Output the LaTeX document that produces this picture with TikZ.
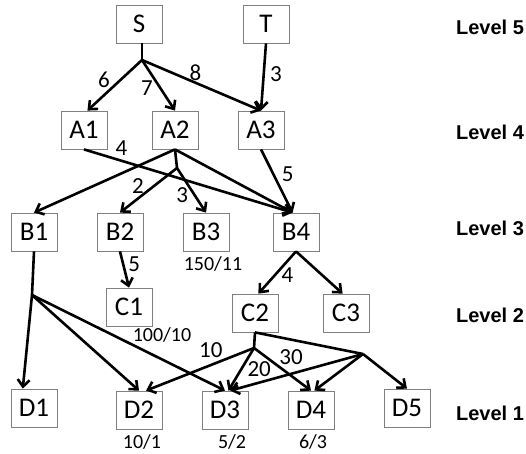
\documentclass[tikz,border=0pt]{standalone}
\usepackage{fontspec}
\setmainfont{Carlito}
\newfontfamily\levelfont{Liberation Sans}
\usetikzlibrary{arrows.meta,positioning}

\begin{document}
\begin{tikzpicture}[x=1pt, y=-1pt, node distance={86pt}, line width=2.6pt,
    main/.style = {draw=gray, line width=0.8pt, minimum width=46pt, minimum height=38pt, inner sep=0pt, font=\fontsize{27}{29}\selectfont},
    arr/.style = {-{Straight Barb[length=7pt,width=12pt]}},
    num/.style = {font=\fontsize{23}{25}\selectfont, inner sep=1pt},
    wt/.style = {font=\fontsize{20}{22}\selectfont, inner sep=0pt},
    lvl/.style = {font=\levelfont\bfseries\fontsize{20}{22}\selectfont}]
    \useasboundingbox (0,0) rectangle (526,453);
    \node[main] (S) at (139,24) {S};
    \node[main] (T) at (266,24) {T};
    \node[main] (A1) at (84,130) {A1};
    \node[main] (A2) at (175,130) {A2};
    \node[main] (A3) [right of=A2] {A3};
    \node[main] (B1) at (34,232) {B1};
    \node[main] (B2) [right of=B1] {B2};
    \node[main] (B3) [right of=B2] {B3};
    \node[main] (B4) at (296,232) {B4};
    \node[main] (C1) at (129,307) {C1};
    \node[main] (C2) at (255,313) {C2};
    \node[main] (C3) at (346,313) {C3};
    \node[main] (D1) at (34,408) {D1};
    \node[main] (D2) at (139,410) {D2};
    \node[main] (D3) [right of=D2] {D3};
    \node[main] (D4) [right of=D3] {D4};
    \node[main] (D5) at (407,408) {D5};
    % weights under the boxes
    \node[wt] (wB3) at (213,264) {150/11};
    \node[wt] (wC1) at (162,335) {100/10};
    \node[wt] (wD2) at (142,442) {10/1};
    \node[wt] (wD3) at (232,442) {5/2};
    \node[wt] (wD4) at (313,442) {6/3};
    % levels
    \node[lvl] (L5) at (490,27) {Level 5};
    \node[lvl] (L4) at (490,132) {Level 4};
    \node[lvl] (L3) at (490,228) {Level 3};
    \node[lvl] (L2) at (490,315) {Level 2};
    \node[lvl] (L1) at (490,413) {Level 1};
    % branch points
    \coordinate (s0) at (142,60);
    \coordinate (a0) at (177,168);
    \coordinate (b0) at (32,295);
    \coordinate (c0) at (254,348);
    \coordinate (c1) at (363,354);
    \draw (S.south -| s0) -- (s0);
    \draw[arr] (s0) -- node[num, pos=.4, left=8pt] {6} (A1.80);
    \draw[arr] (s0) -- node[num, pos=.55, left=5pt] {7} (A2.north);
    \draw[arr] (s0) -- node[num, pos=.45, above=0pt] {8} (A3.north);
    \draw[arr] (T.south) -- node[num, pos=.45, right=4pt] {3} (A3.north);
    \draw[arr] (A1.south) -- node[num, pos=.18, above=3pt] {4} (B4.100);
    \draw[arr] (A2.south) -- (B1.north);
    \draw[arr] (A2.south) -- (B4.100);
    \draw (A2.south) -- (a0);
    \draw[arr] (a0) -- node[num, pos=.4, left=8pt] {2} (B2.north);
    \draw[arr] (a0) -- node[num, pos=.6, left=4pt] {3} (B3.north);
    \draw[arr] (A3.south) -- node[num, pos=.4, right=6pt] {5} (B4.100);
    \draw[arr] (B2.south) -- node[num, pos=.35, right=3pt] {5} (C1.north);
    \draw[arr] (B4.south) -- node[num, pos=.55, right=4pt] {4} (C2.80);
    \draw[arr] (B4.south) -- (C3.100);
    \draw (B1.south) -- (b0);
    \draw[arr] (b0) -- (D1.120);
    \draw[arr] (b0) -- (D2.north);
    \draw[arr] (b0) -- (D3.north);
    \draw (C2.south) -- (c0);
    \draw[arr] (c0) -- node[num, pos=.4, above=5pt] {10} (D2.70);
    \draw[arr] (c0) -- node[num, pos=.5, right=4pt] {20} (D3.80);
    \draw[arr] (c0) -- node[num, pos=.65, above=9pt] {30} (D4.north);
    \draw (C2.south) -- (c1);
    \draw[arr] (c1) -- (D3.75);
    \draw[arr] (c1) -- (D4.80);
    \draw[arr] (c1) -- (D5.north);
\end{tikzpicture}
\end{document}
